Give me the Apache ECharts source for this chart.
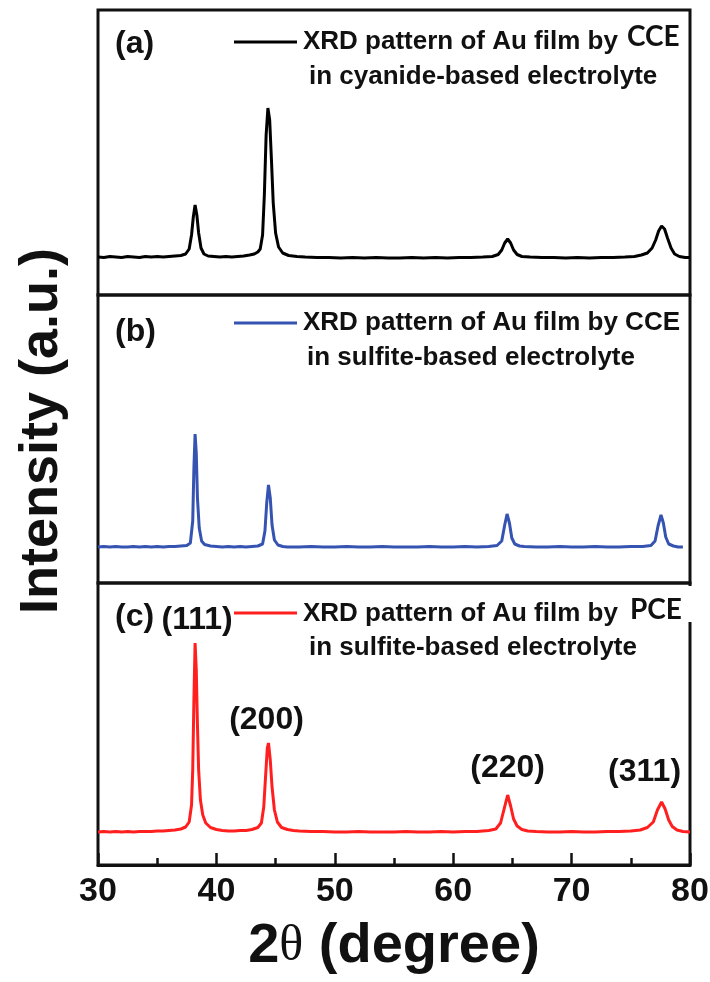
<!DOCTYPE html>
<html>
<head>
<meta charset="utf-8">
<script src="https://cdn.jsdelivr.net/npm/echarts@6/dist/echarts.min.js"></script>
<style>
  html, body { margin: 0; padding: 0; background: #fff; }
  #chart { width: 710px; height: 982px; }
</style>
</head>
<body>
<div id="chart"></div>
<script>
// x tick labels (2θ, degree)
const xTicks = [30, 40, 50, 60, 70, 80];

// (a) CCE, cyanide-based electrolyte  [2θ, intensity a.u.]
const patternA = [
  [30,38],[30.5,37.5],[31,38.5],[31.5,38],[32,37.5],[32.5,38.5],[33,38],[33.5,37.5],[34,38.5],[34.5,38],
  [35,38.5],[35.5,38],[36,38.5],[36.5,39],[37,39.5],[37.4,41],[37.7,46],[37.9,60],[38.05,78],[38.2,90],
  [38.35,80],[38.5,62],[38.7,47],[38.95,41],[39.3,39],[39.8,38.5],[40.3,38],[40.8,38.5],[41.3,38],[41.8,38.5],
  [42.3,39],[42.8,40],[43.2,41],[43.5,43],[43.7,46],[43.9,60],[44.05,100],[44.2,160],[44.35,187],[44.5,175],
  [44.65,135],[44.8,92],[45.0,62],[45.25,48],[45.6,42],[46.1,39.5],[46.8,38.5],[47.5,38],[48.5,37.5],[49.5,37.5],
  [50.5,37],[51.5,37.5],[52.5,37],[53.5,37.5],[54.5,37],[55.5,37],[56.5,37.5],[57.5,37],[58.5,37.5],[59.5,37],
  [60.5,37.5],[61.5,37.5],[62.5,38],[63.3,38.5],[63.8,40.5],[64.1,45],[64.35,52],[64.6,56],[64.85,52],[65.1,45],
  [65.4,40.5],[65.8,38.5],[66.5,38],[67.5,37.5],[68.5,37.5],[69.5,37],[70.5,37.5],[71.5,37],[72.5,37.5],[73.5,37.5],
  [74.5,38],[75.3,38.5],[75.9,40],[76.4,42],[76.8,47],[77.1,55],[77.35,64],[77.6,69],[77.85,66],[78.1,57],
  [78.4,47],[78.7,41],[79.1,38.5],[79.6,37.5],[80,37.5]
];

// (b) CCE, sulfite-based electrolyte
const patternB = [
  [30,36],[30.5,36.5],[31,36],[31.5,36.5],[32,36],[32.5,36],[33,36.5],[33.5,36],[34,36.5],[34.5,36],
  [35,36.5],[35.5,36],[36,36.5],[36.5,36.5],[37,37],[37.5,37.5],[37.8,40],[38.0,62],[38.1,115],[38.2,149],
  [38.3,130],[38.4,85],[38.55,55],[38.75,42],[39.0,38.5],[39.5,37],[40,36.5],[40.5,36],[41,36.5],[41.5,36],
  [42,36.5],[42.5,36],[43,36.5],[43.5,37],[43.9,39],[44.1,52],[44.25,80],[44.4,98],[44.55,85],[44.7,58],
  [44.9,43],[45.2,38],[45.6,36.5],[46,36],[47,36],[48,36.5],[49,36],[50,36],[51,36.5],[52,36],
  [53,36],[54,36.5],[55,36],[56,36],[57,36],[58,36.5],[59,36],[60,36],[61,36.5],[62,36],
  [63,36.5],[63.7,37.5],[64.1,42],[64.35,58],[64.55,69],[64.75,60],[64.95,45],[65.2,39],[65.6,37],[66,36.5],
  [67,36],[68,36],[69,36.5],[70,36],[71,36],[72,36.5],[73,36],[74,36],[75,36.5],[76,36.5],
  [76.7,37.5],[77.05,42],[77.3,57],[77.55,68],[77.75,60],[77.95,46],[78.2,39],[78.6,37],[79,36],[79.4,36]
];

// (c) PCE, sulfite-based electrolyte
const patternC = [
  [30,33],[30.5,33.5],[31,33],[31.5,33.5],[32,33],[32.5,33.5],[33,33],[33.5,33.5],[34,33.5],[34.5,33.5],
  [35,34],[35.5,34],[36,34.5],[36.5,35],[37,36],[37.4,38],[37.7,43],[37.9,60],[38.0,95],[38.1,165],
  [38.2,222],[38.3,195],[38.4,140],[38.5,95],[38.65,65],[38.85,50],[39.1,42],[39.5,37.5],[40,35.5],[40.5,34.5],
  [41,34],[41.5,34],[42,34.5],[42.5,34.5],[43,35.5],[43.5,37.5],[43.8,42],[44.0,58],[44.15,88],[44.3,117],
  [44.4,122],[44.55,105],[44.7,78],[44.9,55],[45.15,43],[45.5,37.5],[46,35.5],[46.5,34.5],[47,34],[48,33.5],
  [49,33.5],[50,33],[51,33],[52,33.5],[53,33],[54,33],[55,33],[56,33.5],[57,33],[58,33],
  [59,33.5],[60,33],[61,33.5],[62,33.5],[63,34.5],[63.6,36],[64.0,42],[64.3,56],[64.6,70],[64.85,59],
  [65.1,46],[65.4,39],[65.8,35.5],[66.3,34],[67,33.5],[68,33],[69,33],[70,33.5],[71,33],[72,33],
  [73,33.5],[74,33.5],[75,34],[75.8,35],[76.4,37.5],[76.9,43],[77.25,55],[77.6,63],[77.9,56],[78.2,45],
  [78.5,38.5],[78.9,35],[79.4,33.5],[80,33]
];

// peak indexing for panel (c)
const hklLabels = ['(111)', '(200)', '(220)', '(311)'];
const hklPeaks = [[38.2, 222], [44.4, 122], [64.6, 70], [77.6, 63]];

const chart = echarts.init(document.getElementById('chart'));

const boldFont = '"Liberation Sans", Arial, sans-serif';
const narrowFont = '"Liberation Sans Narrow", "Arial Narrow", "Liberation Sans", sans-serif';

const grids = [
  { left: 98, right: 20, top: 10, height: 285 },
  { left: 98, right: 20, top: 295, height: 288 },
  { left: 98, right: 20, top: 583, height: 282 }
];
grids.forEach(g => {
  g.show = true; g.borderColor = '#111'; g.borderWidth = 3;
  g.outerBoundsMode = 'none'; g.containLabel = false;
});

const baseX = (i) => ({
  type: 'value', gridIndex: i, min: xTicks[0], max: xTicks[xTicks.length - 1], interval: 10,
  axisLine: { show: false }, axisTick: { show: false }, axisLabel: { show: false },
  splitLine: { show: false }
});

const xAxisC = Object.assign(baseX(2), {
  axisLine: { show: true, onZero: false, lineStyle: { color: '#111', width: 3 } },
  axisTick: { show: true, inside: true, length: 12, lineStyle: { color: '#111', width: 2.5 } },
  minorTick: { show: true, splitNumber: 2, length: 7, lineStyle: { color: '#111', width: 2.5 } },
  axisLabel: { show: true, color: '#111', fontFamily: narrowFont, fontWeight: 'bold', fontSize: 34, margin: 10 },
  name: '{n|2}{t|θ}{n| (degree)}',
  nameLocation: 'middle',
  nameGap: 54,
  nameTextStyle: {
    rich: {
      n: { fontFamily: boldFont, fontWeight: 'bold', fontSize: 56, color: '#111' },
      t: { fontFamily: '"Liberation Serif", "Times New Roman", serif', fontSize: 50, color: '#111' }
    }
  }
});

const yAxes = [0, 1, 2].map(i => ({
  type: 'value', gridIndex: i, min: 0, max: grids[i].height, show: false
}));

const line = (i, data, color) => ({
  type: 'line', xAxisIndex: i, yAxisIndex: i, data: data,
  showSymbol: false, symbol: 'none',
  lineStyle: { color: color, width: 3 },
  animation: false
});

const seriesC = line(2, patternC, '#ff1f1f');
const hklOffsets = [[2, -23], [-2, -23], [0, -27], [-17, -30]];
seriesC.markPoint = {
  symbol: 'circle', symbolSize: 0, animation: false,
  label: {
    show: true, position: 'inside', formatter: '{b}',
    color: '#111', fontFamily: boldFont, fontWeight: 'bold', fontSize: 32
  },
  data: hklLabels.map((name, k) => ({
    name: name, coord: hklPeaks[k], label: { offset: hklOffsets[k] }
  }))
};

// panel tags and legend-like captions
const txt = (x, y, text, size, font, extra) => Object.assign({
  type: 'text', x: x, y: y,
  style: { text: text, fontSize: size, fontFamily: font || boldFont, fontWeight: 'bold', fill: '#111', verticalAlign: 'middle' }
}, extra || {});
const seg = (y, color) => ({
  type: 'line', shape: { x1: 234, y1: y, x2: 297, y2: y }, style: { stroke: color, lineWidth: 3 }
});
const calibri = '"Lato", "Open Sans", sans-serif';

const graphic = [
  txt(115, 44, '(a)', 32),
  seg(42, '#000'),
  txt(303, 42, 'XRD pattern of Au film by', 26),
  txt(627, 37, 'CCE', 28, calibri),
  txt(309, 77, 'in cyanide-based electrolyte', 26),

  txt(115, 332, '(b)', 32),
  seg(323, '#3553b0'),
  txt(303, 323, 'XRD pattern of Au film by CCE', 26),
  txt(307, 358, 'in sulfite-based electrolyte', 26),

  txt(115, 617, '(c)', 32),
  seg(613, '#ff1f1f'),
  txt(303, 614, 'XRD pattern of Au film by', 26),
  txt(630, 610, 'PCE', 28, calibri),
  txt(309, 648, 'in sulfite-based electrolyte', 26),
  { type: 'rect', shape: { x: 686, y: 586, width: 10, height: 36 }, style: { fill: '#fff' }, z: 100 },

  {
    type: 'text', x: 42, y: 431, rotation: Math.PI / 2,
    style: {
      text: 'Intensity (a.u.)', fontSize: 54, fontFamily: boldFont, fontWeight: 'bold',
      fill: '#111', align: 'center', verticalAlign: 'middle'
    }
  }
];

const option = {
  backgroundColor: '#fff',
  animation: false,
  grid: grids,
  xAxis: [baseX(0), baseX(1), xAxisC],
  yAxis: yAxes,
  series: [line(0, patternA, '#000'), line(1, patternB, '#3553b0'), seriesC],
  graphic: graphic
};

chart.setOption(option);
</script>
</body>
</html>
